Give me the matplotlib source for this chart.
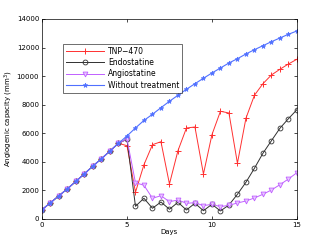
import matplotlib
matplotlib.use("Agg")
import matplotlib.pyplot as plt
import numpy as np

days = np.arange(0, 15.01, 0.5)
without = [650, 1140, 1630, 2120, 2640, 3170, 3710, 4220, 4760, 5300, 5810,
           6370, 6900, 7330, 7790, 8240, 8660, 9080, 9470, 9850, 10220,
           10570, 10920, 11220, 11550, 11850, 12130, 12410, 12670, 12930, 13160]
tnp = [650, 1140, 1630, 2120, 2640, 3170, 3710, 4220, 4760, 5300, 5130,
       1870, 3800, 5200, 5410, 2450, 4780, 6370, 6440, 3150, 5900,
       7540, 7420, 3900, 7050, 8660, 9470, 10080, 10480, 10850, 11180]
endo = [650, 1140, 1630, 2120, 2640, 3170, 3710, 4220, 4760, 5300, 5580,
        890, 1450, 750, 1190, 680, 1170, 630, 1100, 580, 1030,
        560, 980, 1730, 2570, 3550, 4600, 5480, 6350, 7020, 7650]
angio = [650, 1140, 1630, 2120, 2640, 3170, 3710, 4220, 4760, 5300, 5600,
         2540, 2360, 1450, 1630, 1210, 1330, 1100, 1140, 930, 1030,
         860, 960, 1120, 1260, 1470, 1730, 2030, 2400, 2800, 3240]

fig = plt.figure(figsize=(3.27, 2.46), dpi=100)
ax = fig.add_axes([0.1284, 0.1098, 0.7796, 0.813])

ax.plot(days, tnp, color='#ff3030', marker='+', ms=4, lw=0.7, mew=0.7, label='TNP\u2212470')
ax.plot(days, endo, color='#303030', marker='o', ms=3.5, lw=0.7, mew=0.6, mfc='none', label='Endostatine')
ax.plot(days, angio, color='#c060ff', marker='v', ms=3.5, lw=0.7, mew=0.6, mfc='#e8c8ff', label='Angiostatine')
ax.plot(days, without, color='#5070ff', marker='*', ms=3.5, lw=0.8, mew=0.5, label='Without treatment')

ax.set_xlim(0, 15)
ax.set_ylim(0, 14000)
ax.set_xticks([0, 5, 10, 15])
ax.set_yticks(range(0, 14001, 2000))
ax.tick_params(direction='in', labelsize=5, length=2, width=0.5, top=True, right=True, pad=2)
for s in ax.spines.values():
    s.set_linewidth(0.5)
ax.set_xlabel('Days', fontsize=5, labelpad=1)
ax.set_ylabel('Angiogenic capacity (mm$^3$)', fontsize=5, labelpad=1)

leg = ax.legend(loc='upper left', bbox_to_anchor=(0.082, 0.876), fontsize=5.5,
                frameon=True, fancybox=False, edgecolor='black', borderpad=0.4,
                handlelength=5, labelspacing=0.3, handletextpad=0.5, numpoints=1,
                borderaxespad=0)
leg.get_frame().set_linewidth(0.5)

fig.savefig('out.png', dpi=100)
